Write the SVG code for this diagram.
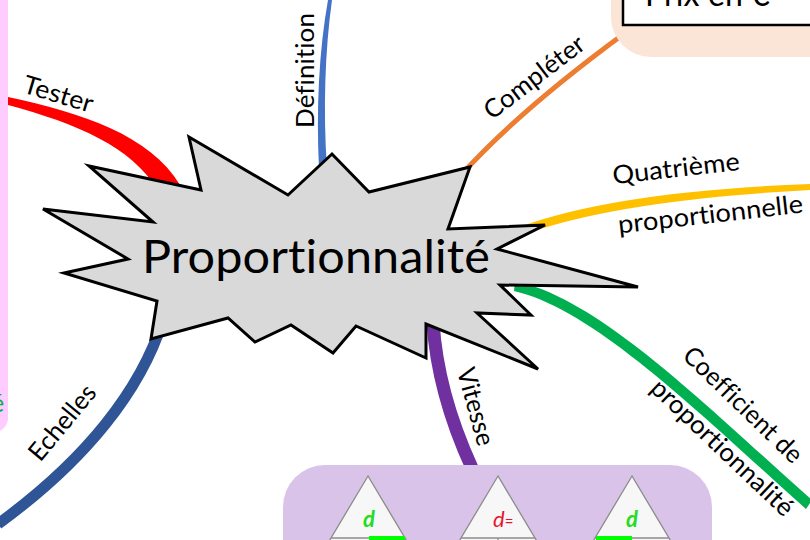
<svg xmlns="http://www.w3.org/2000/svg" width="810" height="540" viewBox="0 0 810 540">
<style>
text{font-variant-ligatures:none;font-feature-settings:"liga" 0,"clig" 0;letter-spacing:0.1px}
.lbl{font-family:Lato,"Open Sans","Liberation Sans",sans-serif;font-size:25.5px;fill:#000}
.tri{fill:#F7F7F7;stroke:#8C8C8C;stroke-width:1.3}
.lin{fill:none;stroke:#8C8C8C;stroke-width:1.3}
</style>
<rect width="810" height="540" fill="#FFFFFF"/>

<g id="node-left-box">
  <rect x="-30" y="-20" width="38" height="452" rx="14" fill="#FFCCFF"/>
  <text x="-9" y="412" font-family="Lato,'Liberation Sans',sans-serif" font-size="25" fill="#00B050">é</text>
</g>

<g id="connectors">
  <path id="c-tester" d="M8,97 C82,113 150,135 180,185 L158,190 C130,146 78,124 8,105 Z" fill="#FF0000"/>
  <path id="c-definition" d="M328,0 L332,0 C325,50 323,110 327,168 L319,168 C316,110 319,50 328,0 Z" fill="#4472C4"/>
  <path id="c-completer" d="M462,174 Q520,110 625,33" fill="none" stroke="#ED7D31" stroke-width="5"/>
  <path id="c-quatrieme" d="M522,226 Q620,191 810,184 L810,190 Q622,200 528,233 Z" fill="#FFC000"/>
  <path id="c-coefficient" d="M515,281 C600,299 705,405 812,500 L806,509 C700,414 594,309 514,291 Z" fill="#00B050"/>
  <path id="c-vitesse" d="M433,322 C436,370 450,420 472,468" fill="none" stroke="#7030A0" stroke-width="13"/>
  <path id="c-echelles" d="M163,320 C141,390 86,460 -2,524" fill="none" stroke="#2F5597" stroke-width="11"/>
  <text class="lbl" text-anchor="middle" textLength="72" lengthAdjust="spacingAndGlyphs" transform="translate(56,102.5) rotate(16.5)">Tester</text>
  <text class="lbl" text-anchor="middle" textLength="115" lengthAdjust="spacingAndGlyphs" transform="translate(314,70.5) rotate(-90)">Définition</text>
  <text class="lbl" text-anchor="middle" textLength="120" lengthAdjust="spacingAndGlyphs" transform="translate(539.5,84) rotate(-37.5)">Compléter</text>
  <text class="lbl" text-anchor="middle" textLength="128" lengthAdjust="spacingAndGlyphs" transform="translate(677,177) rotate(-6.5)">Quatrième</text>
  <text class="lbl" text-anchor="middle" textLength="186" lengthAdjust="spacingAndGlyphs" transform="translate(711.5,223) rotate(-6.5)">proportionnelle</text>
  <text class="lbl" text-anchor="middle" textLength="155" lengthAdjust="spacingAndGlyphs" transform="translate(737,411) rotate(44)">Coefficient de</text>
  <text class="lbl" text-anchor="middle" textLength="186" lengthAdjust="spacingAndGlyphs" transform="translate(716.5,454) rotate(43.5)">proportionnalité</text>
  <text class="lbl" text-anchor="middle" textLength="80" lengthAdjust="spacingAndGlyphs" transform="translate(467.4,409) rotate(74.7)">Vitesse</text>
  <text class="lbl" text-anchor="middle" textLength="90" lengthAdjust="spacingAndGlyphs" transform="translate(69,428) rotate(-50.4)">Echelles</text>
</g>

<g id="node-prix">
  <rect x="611" y="-70" width="260" height="127" rx="40" fill="#FBE5D6"/>
  <rect x="623" y="-45" width="250" height="70" fill="#FFFFFF" stroke="#000" stroke-width="2.5"/>
  <text x="645" y="6" font-family="Lato,'Liberation Sans',sans-serif" font-size="32" textLength="125" lengthAdjust="spacingAndGlyphs" fill="#000">Prix en €</text>
</g>

<g id="node-vitesse">
  <rect x="283" y="465" width="429" height="130" rx="42" fill="#D9C3E9"/>
  <polygon class="tri" points="368,476 294,600 442,600"/>
  <line class="lin" x1="331" y1="538" x2="405" y2="538"/>
  <rect x="369" y="536" width="36" height="4" fill="#00FF00"/>
  <text x="369" y="527" text-anchor="middle" font-family="Lato,'Liberation Sans',sans-serif" font-size="22" font-style="italic" font-weight="bold" fill="#22DD22">d</text>
  <polygon class="tri" points="498,476 424,600 572,600"/>
  <line class="lin" x1="461" y1="538" x2="535" y2="538"/>
  <line class="lin" x1="498" y1="538" x2="498" y2="600"/>
  <text x="493" y="527" font-family="Lato,'Liberation Sans',sans-serif" font-size="22" font-style="italic" fill="#E8132B">d<tspan font-size="15" font-style="normal">=</tspan></text>
  <polygon class="tri" points="632,476 558,600 706,600"/>
  <line class="lin" x1="595" y1="538" x2="669" y2="538"/>
  <rect x="596" y="536" width="36" height="4" fill="#00FF00"/>
  <text x="632" y="527" text-anchor="middle" font-family="Lato,'Liberation Sans',sans-serif" font-size="22" font-style="italic" font-weight="bold" fill="#22DD22">d</text>
</g>

<g id="node-center">
  <polygon points="189,137 288,195 332,154 369,192 470,167 448,229 545,225 497,249 638,287 500,285 531,315 477,313 538,369 426,324 426,358 356,326 333,353 291,325 255,342 228,318 151,339 157,301 64,273 128,259 43,209 153,222 89,166 201,190" fill="#D9D9D9" stroke="#000" stroke-width="3" stroke-linejoin="miter"/>
  <text x="142" y="273" font-family="Lato,'Liberation Sans',sans-serif" font-size="47" textLength="348" lengthAdjust="spacingAndGlyphs" fill="#000">Proportionnalité</text>
</g>
</svg>
